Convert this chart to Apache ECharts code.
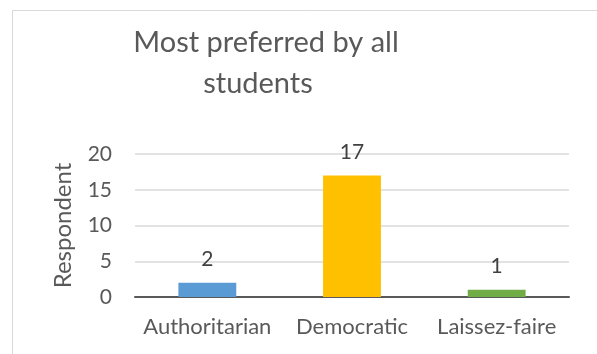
<!DOCTYPE html>
<html>
<head>
<meta charset="utf-8">
<script src="https://cdn.jsdelivr.net/npm/echarts@6/dist/echarts.min.js"></script>
<style>
  html, body { margin: 0; padding: 0; background: #fff; }
  #chart { width: 597px; height: 354px; }
</style>
</head>
<body>
<div id="chart"></div>
<script>
// Leadership style preferred by students
const categories = ['Authoritarian', 'Democratic', 'Laissez-faire'];
const respondents = [2, 17, 1];
const barColors = ['#5B9BD5', '#FFC000', '#70AD47'];
const yTicks = [0, 5, 10, 15, 20];
const titleLines = ['Most preferred by all', 'students'];

const FONT = 'Lato, "Open Sans", sans-serif';
const TEXT = '#595959';

const chart = echarts.init(document.getElementById('chart'), null, { renderer: 'canvas' });

const titleStyle = (text) => ({
  text: text,
  font: '29px ' + FONT,
  fill: TEXT,
  textAlign: 'center',
  textVerticalAlign: 'middle'
});

chart.setOption({
  animation: false,
  backgroundColor: '#ffffff',
  graphic: [
    {
      type: 'rect',
      shape: { x: 12.5, y: 10.5, width: 700, height: 400 },
      style: { fill: 'none', stroke: '#D9D9D9', lineWidth: 1 },
      silent: true
    },
    { type: 'text', x: 266, y: 43, style: titleStyle(titleLines[0]) },
    { type: 'text', x: 258, y: 84, style: titleStyle(titleLines[1]) }
  ],
  grid: { left: 135, right: 28, top: 154, bottom: 57, containLabel: false },
  xAxis: {
    type: 'category',
    data: categories,
    axisLine: { show: true, lineStyle: { color: '#595959', width: 2 } },
    axisTick: { show: false },
    axisLabel: { interval: 0, color: TEXT, fontFamily: FONT, fontSize: 22, margin: 19 }
  },
  yAxis: {
    type: 'value',
    min: yTicks[0],
    max: yTicks[yTicks.length - 1],
    interval: 5,
    name: 'Respondent',
    nameLocation: 'middle',
    nameGap: 60,
    nameRotate: 90,
    nameTextStyle: { color: TEXT, fontFamily: FONT, fontSize: 24 },
    axisLine: { show: false },
    axisTick: { show: false },
    axisLabel: { color: TEXT, fontFamily: FONT, fontSize: 21, margin: 23 },
    splitLine: { lineStyle: { color: '#D9D9D9', width: 1.5 } }
  },
  series: [{
    type: 'bar',
    data: respondents.map((v, i) => ({ value: v, itemStyle: { color: barColors[i] } })),
    barWidth: '40%',
    label: {
      show: true,
      position: 'top',
      distance: 13,
      color: '#404040',
      fontFamily: FONT,
      fontSize: 21
    }
  }]
});
</script>
</body>
</html>
